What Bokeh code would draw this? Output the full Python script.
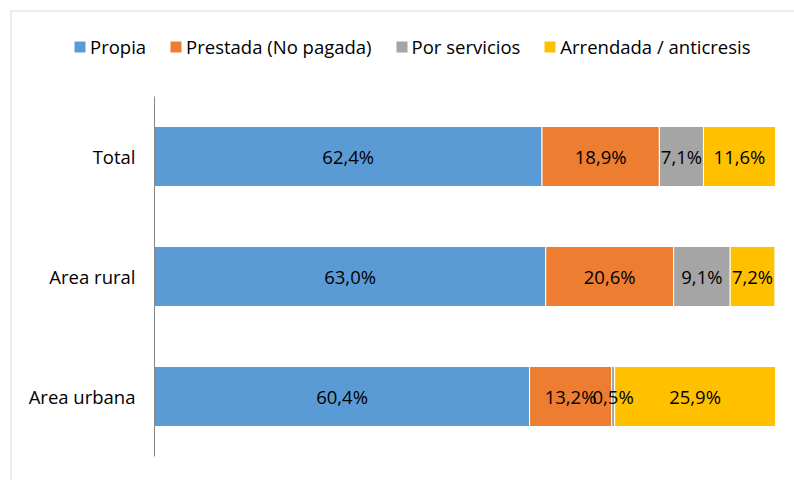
from bokeh.plotting import figure
from bokeh.models import ColumnDataSource, Range1d, Legend, LegendItem, BoxAnnotation
from bokeh.core.properties import value
from bokeh.embed import file_html
from bokeh.resources import INLINE

categories = ["Area urbana", "Area rural", "Total"]
series = ["Propia", "Prestada (No pagada)", "Por servicios", "Arrendada / anticresis"]
propia = [60.4, 63.0, 62.4]
prestada = [13.2, 20.6, 18.9]
servicios = [0.5, 9.1, 7.1]
arrendada = [25.9, 7.2, 11.6]
colors = ["#5B9BD5", "#ED7D31", "#A5A5A5", "#FFC000"]

FONT = "Open Sans"
FS = "18.5px"
W, H = 794, 480
# plot-area geometry (pixels)
PX_LEFT, PX_RIGHT = 154, 775          # 0% and 100%
ROW_PX = 120                          # pixels per category
FIRST_ROW_FROM_BOTTOM = 84            # centre of first category from canvas bottom

xscale = (PX_RIGHT - PX_LEFT) / 100.0
x0 = -PX_LEFT / xscale
x1 = x0 + W / xscale
y0 = 0.5 - FIRST_ROW_FROM_BOTTOM / ROW_PX
y1 = y0 + H / ROW_PX

def xd(px):
    return x0 + px / xscale

def yd(px_from_top):
    return y1 - px_from_top / ROW_PX

keys = ["propia", "prestada", "servicios", "arrendada"]
ypos = [i + 0.5 for i in range(len(categories))]
data = dict(y=ypos, propia=propia, prestada=prestada,
            servicios=servicios, arrendada=arrendada)
source = ColumnDataSource(data)

p = figure(width=W, height=H, x_range=Range1d(x0, x1), y_range=Range1d(y0, y1),
           output_backend="svg", toolbar_location=None,
           min_border_left=0, min_border_right=0, min_border_top=0,
           min_border_bottom=0)
p.xaxis.visible = False
p.yaxis.visible = False
p.xgrid.visible = False
p.ygrid.visible = False
p.outline_line_color = None

rends = p.hbar_stack(keys, y="y", height=0.5, color=colors, source=source,
                     line_color="white", line_width=1)

# category axis line and labels
p.segment(x0=[0], y0=[0], x1=[0], y1=[len(categories)], line_color="#868686",
          line_width=1)
p.text(x=[0] * len(categories), y=ypos, text=categories, x_offset=-19,
       text_font=value(FONT), text_font_size=FS, text_color="black",
       text_align="right", text_baseline="middle")

# data labels
lx, ly, lt = [], [], []
for i in range(len(categories)):
    cum = 0.0
    for k in keys:
        v = data[k][i]
        lx.append(cum + v / 2)
        ly.append(ypos[i])
        lt.append(f"{v:.1f}%".replace(".", ","))
        cum += v
p.text(x=lx, y=ly, text=lt, text_font=value(FONT), text_font_size=FS,
       text_color="black", text_align="center", text_baseline="middle")

legend = Legend(items=[LegendItem(label=s, renderers=[r]) for s, r in zip(series, rends)],
                orientation="horizontal", location=(72, 421),
                glyph_width=15, glyph_height=15, label_standoff=3, spacing=22,
                padding=0, margin=0, border_line_color=None, background_fill_alpha=0,
                label_text_font=FONT, label_text_font_size=FS,
                label_text_color="#000000")
p.add_layout(legend)

border = BoxAnnotation(left=xd(10.5), top=yd(10.5), right=xd(W + 20), bottom=yd(H + 20),
                       fill_alpha=0, line_color="#ADADAD", line_width=1.5)
p.add_layout(border)

open("out.html", "w").write(file_html(p, INLINE))
